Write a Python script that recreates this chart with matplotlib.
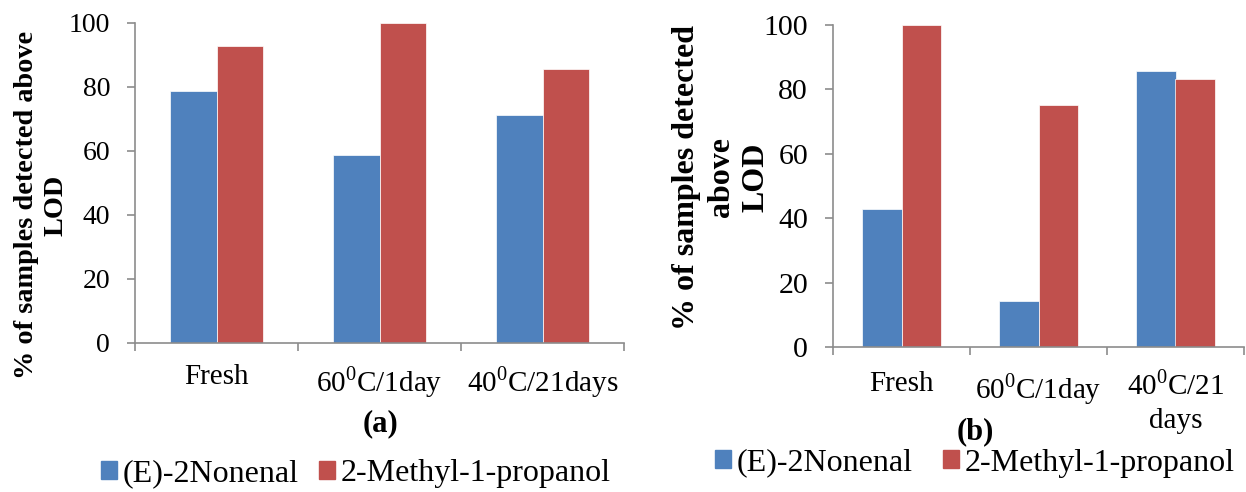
import numpy as np
import matplotlib
matplotlib.use('Agg')
import matplotlib.pyplot as plt
from matplotlib.patches import Patch

plt.rcParams['font.family'] = ['Liberation Serif', 'DejaVu Serif']
plt.rcParams['mathtext.fontset'] = 'custom'
plt.rcParams['mathtext.rm'] = 'Liberation Serif'

# data
cats_a = ['Fresh', '60$^{0}$C/1day', '40$^{0}$C/21days']
cats_b = ['Fresh', '60$^{0}$C/1day', '40$^{0}$C/21\ndays']
nonenal_a = [78.6, 58.8, 71.4]
propanol_a = [92.9, 100.0, 85.7]
nonenal_b = [42.9, 14.3, 85.7]
propanol_b = [100.0, 75.0, 83.3]
series_names = ['(E)-2Nonenal', '2-Methyl-1-propanol']

blue = '#4F81BD'
red = '#C0504D'
axc = '#8C8C8C'
W, H = 1246, 492

fig = plt.figure(figsize=(W / 100, H / 100), dpi=100)


def px(x, y):
    return x / W, 1 - y / H


def panel(l, t, r, b, cats, v1, v2, ytick_fs, xpad, ylab, ylab_fs, ylab_xy,
          sub, sub_xy, leg_xy, colsp):
    ax = fig.add_axes([l / W, 1 - b / H, (r - l) / W, (b - t) / H])
    x = np.arange(len(cats))
    bw = 0.285
    ax.bar(x - bw / 2, v1, bw, color=blue, edgecolor='white', linewidth=0.5)
    ax.bar(x + bw / 2, v2, bw, color=red, edgecolor='white', linewidth=0.5)
    ax.set_xlim(-0.5, len(cats) - 0.5)
    ax.set_ylim(0, 100)
    ax.set_yticks(np.arange(0, 101, 20))
    ax.set_xticks(x)
    ax.set_xticklabels(cats, fontsize=21, linespacing=1.35)
    ax.set_xticks(np.arange(len(cats) + 1) - 0.5, minor=True)
    ax.tick_params(axis='x', which='major', length=0, pad=xpad)
    ax.tick_params(axis='x', which='minor', length=6, color=axc, width=1.2)
    ax.tick_params(axis='y', length=6, color=axc, width=1.2,
                   labelsize=ytick_fs, pad=12)
    for s in ['top', 'right']:
        ax.spines[s].set_visible(False)
    for s in ['left', 'bottom']:
        ax.spines[s].set_color(axc)
        ax.spines[s].set_linewidth(1.2)
    fig.text(*px(*ylab_xy), ylab, fontsize=ylab_fs, fontweight='bold',
             rotation=90, ha='center', va='center', multialignment='center',
             linespacing=1.25)
    fig.text(*px(*sub_xy), sub, fontsize=22, fontweight='bold',
             ha='center', va='center')
    handles = [Patch(color=blue), Patch(color=red)]
    fig.legend(handles, series_names, loc='center', bbox_to_anchor=px(*leg_xy),
               ncol=2, frameon=False, fontsize=23, handlelength=0.5,
               handleheight=0.5, handletextpad=0.18, columnspacing=colsp,
               borderpad=0, borderaxespad=0)
    return ax


panel(135, 23, 624, 343, cats_a, nonenal_a, propanol_a, 20, 15,
      '% of samples detected above\nLOD', 20.3, (41, 205),
      '(a)', (380, 424), (356, 474), 0.63)

panel(833, 25, 1244, 347, cats_b, nonenal_b, propanol_b, 21.5, 17,
      '% of samples detected\nabove\nLOD', 23, (721, 177),
      '(b)', (975, 432), (975, 463), 0.94)

fig.savefig('out.png', dpi=100)
